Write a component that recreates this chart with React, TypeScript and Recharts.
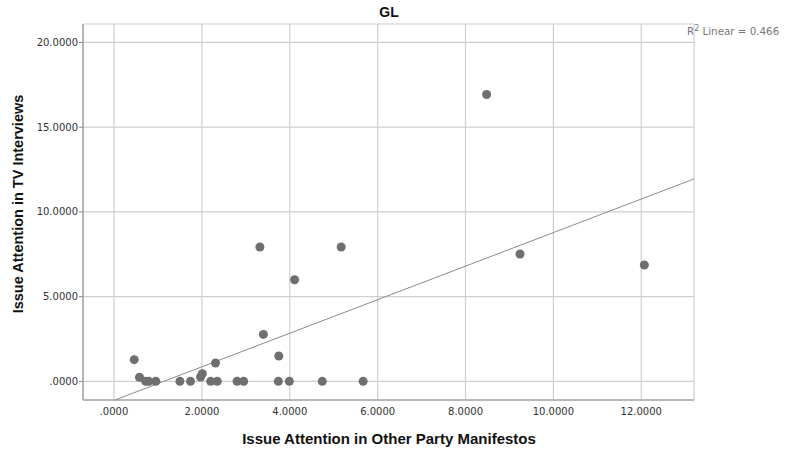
import { ScatterChart, Scatter, XAxis, YAxis, ZAxis, CartesianGrid, ReferenceLine, Label } from 'recharts'

// party manifesto attention (x) vs TV interview attention (y), party GL
const manifestoAttention = [
  0.46, 0.58, 0.72, 0.79, 0.95, 1.5, 1.74, 1.97, 2.01, 2.2, 2.31, 2.35, 2.8, 2.95,
  3.32, 3.4, 3.74, 3.75, 3.99, 4.11, 4.74, 5.17, 5.67, 8.48, 9.24, 12.07
]
const tvAttention = [
  1.28, 0.24, 0, 0, 0, 0, 0, 0.26, 0.45, 0, 1.08, 0, 0, 0,
  7.93, 2.77, 0, 1.5, 0, 6.0, 0, 7.93, 0, 16.93, 7.52, 6.87
]

const xTicks = [0, 2, 4, 6, 8, 10, 12]
const yTicks = [0, 5, 10, 15, 20]
const xDomain = [-0.706, 13.2]
const yDomain = [-1.1, 21.09]

// linear fit, R2 = 0.466
const fitSlope = 0.99
const fitIntercept = -1.12
const rSquared = '0.466'

const points = manifestoAttention.map((x, i) => ({ x, y: tvAttention[i] }))

const fitStartX = (yDomain[0] - fitIntercept) / fitSlope
const fitEndX = xDomain[1]
const fitSegment = [
  { x: fitStartX, y: yDomain[0] },
  { x: fitEndX, y: fitIntercept + fitSlope * fitEndX }
]

const fmt = (v: number) => (v === 0 ? '.0000' : v.toFixed(4))

const titleFont = '"Liberation Sans", Arial, sans-serif'
const tickFont = '"DejaVu Sans", sans-serif'

const YTitle = () => (
  <text
    x={18}
    y={204}
    transform="rotate(-90 18 204)"
    textAnchor="middle"
    dominantBaseline="central"
    fontFamily={titleFont}
    fontWeight="bold"
    fontSize={14.5}
    fill="#111"
  >
    Issue Attention in TV Interviews
  </text>
)

const XTitle = () => (
  <text
    x={389}
    y={438}
    textAnchor="middle"
    dominantBaseline="central"
    fontFamily={titleFont}
    fontWeight="bold"
    fontSize={15}
    fill="#111"
  >
    Issue Attention in Other Party Manifestos
  </text>
)

export default function App() {
  return (
    <div style={{ position: 'absolute', left: 0, top: 0, width: 786, height: 451, background: '#fff' }}>
      <div
        style={{
          position: 'absolute', left: 0, width: 778, top: 4, textAlign: 'center',
          fontFamily: titleFont, fontWeight: 'bold', fontSize: 14, color: '#111'
        }}
      >
        GL
      </div>
      <div
        style={{
          position: 'absolute', left: 687, top: 25, fontFamily: tickFont,
          fontSize: 10.3, color: '#777', whiteSpace: 'nowrap'
        }}
      >
        R<sup style={{ fontSize: 8, verticalAlign: 'top', lineHeight: 1 }}>2</sup> Linear = {rSquared}
      </div>
      <ScatterChart width={786} height={451} margin={{ top: 24, right: 92, left: 0, bottom: 0 }}>
        <CartesianGrid stroke="#cfcfcf" strokeWidth={1.2} />
        <XAxis
          type="number"
          dataKey="x"
          domain={xDomain}
          ticks={xTicks}
          allowDataOverflow
          height={51}
          tickFormatter={fmt}
          tickLine={false}
          tickSize={6}
          tickMargin={2}
          axisLine={{ stroke: '#8a8a8a' }}
          tick={{ fontSize: 10, fill: '#333', fontFamily: tickFont }}
        >
          <Label content={<XTitle />} />
        </XAxis>
        <YAxis
          type="number"
          dataKey="y"
          domain={yDomain}
          ticks={yTicks}
          allowDataOverflow
          width={83}
          tickFormatter={fmt}
          tickSize={4}
          tickMargin={1}
          tickLine={{ stroke: '#8a8a8a' }}
          axisLine={{ stroke: '#8a8a8a' }}
          tick={{ fontSize: 10, fill: '#333', fontFamily: tickFont }}
        >
          <Label content={<YTitle />} />
        </YAxis>
        <ZAxis range={[40, 40]} />
        <ReferenceLine segment={fitSegment} stroke="#8c8c8c" strokeWidth={1} ifOverflow="visible" />
        <Scatter data={points} fill="#6f6f6f" isAnimationActive={false} shape="circle" />
      </ScatterChart>
    </div>
  )
}
